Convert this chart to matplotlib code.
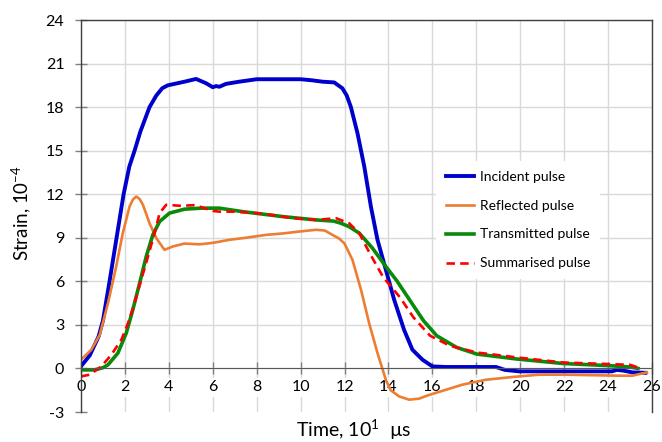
import matplotlib
matplotlib.use("Agg")
import matplotlib.pyplot as plt

plt.rcParams['font.family'] = ['Lato', 'DejaVu Sans']
plt.rcParams['mathtext.fontset'] = 'custom'
plt.rcParams['mathtext.rm'] = 'Lato'
plt.rcParams['axes.unicode_minus'] = False

# time, 10^1 us  /  strain, 10^-4
t_inc = [0, 0.4, 0.8, 1.0, 1.3, 1.62, 1.94, 2.2, 2.44, 2.7, 3.12, 3.43, 3.7, 3.95, 4.71, 5.24, 5.7, 6.0,
         6.15, 6.3, 6.6, 7.2, 8.0, 9.0, 10.0, 10.5, 11.0, 11.53, 11.9, 12.1, 12.29, 12.59, 12.9, 13.2,
         13.5, 13.88, 14.26, 14.71, 15.09, 15.55, 16.0, 16.6, 18.0, 18.9, 19.3, 19.94, 22.0, 24.18, 24.4,
         24.7, 25.1, 25.7]
y_inc = [0.15, 0.9, 2.2, 3.3, 6.0, 9.0, 12.0, 13.9, 15.0, 16.3, 18.0, 18.8, 19.3, 19.5, 19.75, 19.94, 19.64, 19.37,
         19.45, 19.4, 19.6, 19.75, 19.92, 19.92, 19.92, 19.85, 19.75, 19.7, 19.3, 18.8, 18.0, 16.2, 13.9, 11.15,
         8.86, 6.8, 4.73, 2.66, 1.29, 0.6, 0.14, 0.1, 0.1, 0.1, -0.1, -0.2, -0.2, -0.2, -0.1,
         -0.15, -0.27, -0.3]

t_ref = [0, 0.47, 0.85, 1.23, 1.6, 1.9, 2.21, 2.37, 2.52, 2.68, 2.82, 3.12, 3.43, 3.8, 4.18, 4.71, 5.4,
         6.0, 6.76, 7.5, 8.43, 9.2, 9.94, 10.7, 11.1, 11.45, 11.75, 12.0, 12.36, 12.75, 13.12, 13.5, 13.88,
         14.1, 14.49, 14.94, 15.4, 15.8, 16.38, 17.36, 18.43, 19.64, 20.85, 22.06, 24.5, 25.1, 25.77]
y_ref = [0.6, 1.29, 2.3, 4.5, 7.0, 9.3, 11.15, 11.65, 11.84, 11.65, 11.27, 10.0, 8.97, 8.17, 8.4, 8.6, 8.55,
         8.65, 8.86, 9.0, 9.2, 9.3, 9.43, 9.55, 9.5, 9.2, 8.95, 8.6, 7.48, 5.42, 3.12, 1.06, -0.78,
         -1.5, -1.93, -2.15, -2.08, -1.85, -1.58, -1.12, -0.78, -0.59, -0.43, -0.43, -0.5, -0.5, -0.27]

t_tr = [0, 0.62, 1.0, 1.23, 1.68, 2.06, 2.36, 2.67, 2.97, 3.27, 3.58, 4.03, 4.71, 5.47, 6.3, 7.36, 9.18,
        10.7, 11.5, 11.84, 12.2, 12.67, 13.27, 13.88, 14.38, 14.99, 15.6, 16.2, 17.1, 18.02, 19.84, 21.95,
        24.08, 25.0, 25.36]
y_tr = [-0.1, -0.1, 0.05, 0.25, 1.06, 2.43, 4.04, 5.88, 7.71, 9.2, 10.12, 10.7, 10.97, 11.04, 11.04, 10.8, 10.46,
        10.23, 10.15, 10.0, 9.77, 9.32, 8.29, 7.02, 6.04, 4.66, 3.28, 2.25, 1.45, 0.99, 0.65, 0.34,
        0.19, 0.1, 0.0]

t_sum = [0, 0.4, 0.93, 1.38, 1.84, 2.14, 2.44, 2.74, 3.05, 3.35, 3.58, 3.88, 4.56, 5.2, 6.0, 6.3, 7.0,
         7.97, 8.8, 9.64, 10.7, 11.61, 12.21, 12.67, 13.17, 13.77, 14.53, 15.14, 15.9, 16.8, 18.02, 19.84,
         21.95, 24.08, 25.0, 25.36]
y_sum = [-0.55, -0.43, 0.14, 0.94, 1.98, 3.12, 4.5, 6.1, 7.71, 9.32, 10.7, 11.27, 11.2, 11.25, 10.85, 10.8, 10.8,
         10.7, 10.55, 10.35, 10.23, 10.35, 10.0, 9.32, 7.87, 6.26, 4.89, 3.51, 2.25, 1.56, 1.1, 0.76,
         0.41, 0.3, 0.25, 0.07]

x_ticks = list(range(0, 27, 2))
y_ticks = list(range(-3, 25, 3))

fig = plt.figure(figsize=(6.62, 4.42), dpi=100)
ax = fig.add_axes([81 / 662, 30 / 442, 571 / 662, 392 / 442])

ax.plot(t_inc, y_inc, color='#0000CC', lw=2.8, label='Incident pulse')
ax.plot(t_ref, y_ref, color='#ED7D31', lw=1.9, label='Reflected pulse')
ax.plot(t_tr, y_tr, color='#0A8A0A', lw=2.6, label='Transmitted pulse')
ax.plot(t_sum, y_sum, color='#FF0000', lw=1.9, dashes=(3.2, 2), label='Summarised pulse')

ax.set_xlim(0, 26)
ax.set_ylim(-3, 24)
ax.set_xticks(x_ticks)
ax.set_yticks(y_ticks)
ax.grid(True, color='#D9D9D9', lw=1.0)
ax.set_axisbelow(True)
ax.yaxis.get_gridlines()[0].set_visible(False)

# x axis sits at y = 0 like the Excel original
ax.spines['bottom'].set_position(('data', 0))
ax.spines['bottom'].set_color('#595959')
for s in ['left', 'top', 'right']:
    ax.spines[s].set_color('#404040')
    ax.spines[s].set_linewidth(1.0)

ax.tick_params(axis='x', direction='inout', length=9, width=1, color='#7F7F7F', pad=4, labelsize=11.5)
ax.tick_params(axis='y', direction='inout', length=8, width=1, color='#7F7F7F', pad=8, labelsize=11.5)
for lab in ax.get_xticklabels():
    lab.set_bbox(dict(facecolor='white', edgecolor='none', pad=2))

leg = ax.legend(loc='center', bbox_to_anchor=(518 / 662, 1 - 220 / 442), bbox_transform=fig.transFigure,
                frameon=True, fontsize=10, handlelength=2.0, handletextpad=0.45, labelspacing=1.22,
                borderpad=0.7, fancybox=False)
leg.get_frame().set_facecolor('white')
leg.get_frame().set_edgecolor('none')
leg.get_frame().set_alpha(1)

fig.text(354 / 662, 1 - 437 / 442, 'Time, 10$^{\\mathregular{1}}$  µs', ha='center', va='baseline', fontsize=14)
fig.text(22 / 662, 1 - 213 / 442, 'Strain, 10$^{\\mathregular{-4}}$', ha='center', va='center',
         rotation=90, fontsize=13.5)

fig.savefig('out.png', dpi=100)
